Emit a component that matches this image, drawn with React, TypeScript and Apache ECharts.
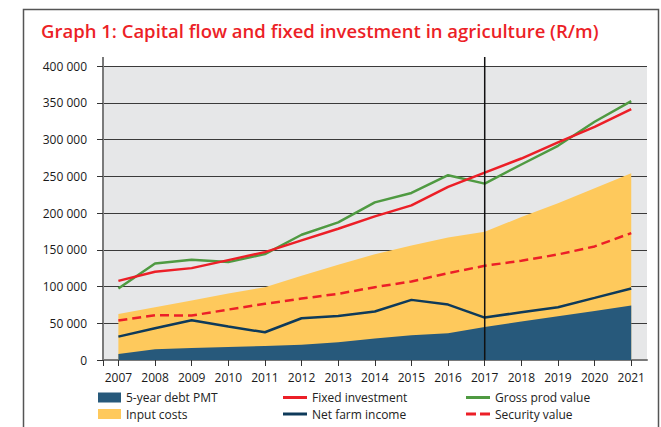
import React, { useEffect, useRef } from "react";
import * as echarts from "echarts";

const years = [2007, 2008, 2009, 2010, 2011, 2012, 2013, 2014, 2015, 2016, 2017, 2018, 2019, 2020, 2021];
const debtPmt = [8200, 14500, 16400, 17700, 19100, 20900, 24100, 29100, 33600, 36400, 45000, 52300, 59500, 66800, 74100];
const inputCosts = [62700, 71800, 80900, 90400, 99100, 114500, 129500, 144000, 155900, 166800, 174500, 194500, 213400, 233600, 254000];
const netFarmIncome = [31800, 43200, 54100, 45500, 37700, 56800, 60000, 65900, 81800, 75400, 57700, 65000, 71800, 84500, 97300];
const securityValue = [53600, 60900, 60500, 68600, 76400, 83600, 90000, 99100, 106800, 118200, 128200, 135000, 143600, 154500, 172700];
const fixedInvestment = [107700, 120000, 125000, 135900, 146800, 162700, 178600, 195400, 210400, 235500, 255000, 274100, 296000, 317300, 341400];
const grossProdValue = [97300, 131400, 136400, 133200, 144100, 170400, 187300, 214500, 227300, 251400, 240000, 266000, 291400, 324100, 352300];
const yTicks = [0, 50000, 100000, 150000, 200000, 250000, 300000, 350000, 400000];
const dividerYear = 2017;

const FONT = "'Open Sans', 'Noto Sans', sans-serif";
const RED = "#ec1f27";
const GREEN = "#4f9a41";
const NAVY = "#0e3a5a";
const BLUE = "#27597b";
const YELLOW = "#fec95c";

const pairs = (vals: number[]) => years.map((y, i) => [y, vals[i]]);
const fmt = (v: number) => String(v).replace(/\B(?=(\d{3})+(?!\d))/g, " ");

const LINE_ICON = "path://M0,0h24v3h-24z";
const DASH_ICON = "path://M0,0h10v3h-10z M14,0h10v3h-10z";

export default function App() {
  const ref = useRef<HTMLDivElement>(null);
  useEffect(() => {
    document.body.style.margin = "0";
    const chart = echarts.init(ref.current!, null, { renderer: "svg" });
    const legendText = { fontFamily: FONT, fontSize: 12, color: "#222", lineHeight: 11 };
    const legendBase = {
      top: 391.5, orient: "vertical", itemHeight: 10, itemGap: 4.5, height: 40,
      padding: 0, textStyle: legendText,
    };
    const xMin = 2006.58;
    chart.setOption({
      animation: false,
      title: {
        text: "Graph 1: Capital flow and fixed investment in agriculture (R/m)",
        left: 36,
        top: 16,
        textStyle: { fontFamily: FONT, fontSize: 18.5, fontWeight: 600, color: RED },
      },
      grid: {
        left: 103,
        right: 14,
        top: 66,
        bottom: 67,
        show: true,
        backgroundColor: "#e6e7e8",
        borderWidth: 0,
      },
      legend: [
        {
          ...legendBase, left: 98, itemWidth: 23,
          data: [{ name: "5-year debt PMT", icon: "rect" }, { name: "Input costs", icon: "rect" }],
        },
        {
          ...legendBase, left: 283, itemWidth: 24,
          data: [{ name: "Fixed investment", icon: LINE_ICON }, { name: "Net farm income", icon: LINE_ICON }],
        },
        {
          ...legendBase, left: 466, itemWidth: 24,
          data: [{ name: "Gross prod value", icon: LINE_ICON }, { name: "Security value", icon: DASH_ICON }],
        },
      ],
      xAxis: {
        type: "value",
        min: xMin,
        max: 2021.43,
        axisLine: { show: true, lineStyle: { color: "#7a7a7a", width: 2 } },
        axisTick: { show: true, length: 6, lineStyle: { color: "#333", width: 1 }, customValues: [xMin, ...years] },
        axisLabel: {
          customValues: years,
          formatter: (v: number) => String(v),
          fontFamily: FONT, fontSize: 12, color: "#1a1a1a", margin: 11,
        },
        splitLine: { show: false },
      },
      yAxis: {
        type: "value",
        min: 0,
        max: 400000,
        interval: 50000,
        axisLine: { show: true, lineStyle: { color: "#7a7a7a", width: 2 } },
        axisTick: { show: true, length: 6, lineStyle: { color: "#333", width: 1 }, customValues: yTicks },
        axisLabel: {
          customValues: yTicks,
          formatter: (v: number) => fmt(v),
          fontFamily: FONT, fontSize: 12, color: "#1a1a1a", margin: 16,
        },
        splitLine: { show: true, lineStyle: { color: "#3a3a3a", width: 1 } },
      },
      series: [
        {
          name: "Input costs", type: "line", data: pairs(inputCosts), symbol: "none",
          color: YELLOW, lineStyle: { width: 0 }, areaStyle: { color: YELLOW, opacity: 1 }, z: 1,
        },
        {
          name: "5-year debt PMT", type: "line", data: pairs(debtPmt), symbol: "none",
          color: BLUE, lineStyle: { width: 0 }, areaStyle: { color: BLUE, opacity: 1 }, z: 2,
        },
        {
          name: "Net farm income", type: "line", data: pairs(netFarmIncome), symbol: "none",
          color: NAVY, lineStyle: { width: 2.5, color: NAVY }, z: 3,
        },
        {
          name: "Security value", type: "line", data: pairs(securityValue), symbol: "none",
          color: RED, lineStyle: { width: 2.5, color: RED, type: [9, 5] }, z: 3,
        },
        {
          name: "Gross prod value", type: "line", data: pairs(grossProdValue), symbol: "none",
          color: GREEN, lineStyle: { width: 2.5, color: GREEN }, z: 4,
        },
        {
          name: "Fixed investment", type: "line", data: pairs(fixedInvestment), symbol: "none",
          color: RED, lineStyle: { width: 2.5, color: RED }, z: 5,
        },
      ],
    });

    const top = chart.convertToPixel({ gridIndex: 0 }, [dividerYear, 400000]) as number[];
    const bottom = chart.convertToPixel({ gridIndex: 0 }, [dividerYear, 0]) as number[];
    const axisX = chart.convertToPixel({ gridIndex: 0 }, [xMin, 0]) as number[];
    chart.setOption({
      graphic: [
        {
          type: "rect",
          shape: { x: 23.5, y: 9.5, width: 635, height: 440 },
          style: { fill: "none", stroke: "#555", lineWidth: 1.5 },
          silent: true,
        },
        {
          type: "line",
          shape: { x1: top[0], y1: top[1] - 9, x2: bottom[0], y2: bottom[1] },
          style: { stroke: "#111", lineWidth: 1.5 },
          z: 10,
        },
        {
          type: "line",
          shape: { x1: axisX[0], y1: top[1] - 9, x2: axisX[0], y2: top[1] },
          style: { stroke: "#7a7a7a", lineWidth: 2 },
          z: 10,
        },
      ],
    });
    return () => chart.dispose();
  }, []);
  return <div ref={ref} style={{ width: 661, height: 427 }} />;
}
